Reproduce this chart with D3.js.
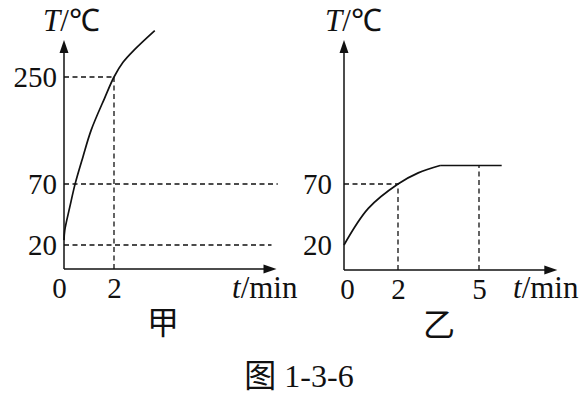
<!doctype html>
<html>
<head>
<meta charset="utf-8">
<style>
  body { margin: 0; background: #fff; }
  text { font-family: "Liberation Serif", "Times New Roman", serif; fill: #111; }
  .cjk { font-family: "Noto Sans CJK SC", sans-serif; }
</style>
</head>
<body>
<div id="chart"></div>
<script src="https://cdnjs.cloudflare.com/ajax/libs/d3/7.8.5/d3.min.js"></script>
<script>
// 甲 panel: temperature curve
const jiaTime = [0, 0.03, 0.23, 0.45, 0.76, 1.09, 1.63, 2, 2.36, 2.83, 3.63];
const jiaTemp = [24, 32, 51, 71, 116, 161, 215, 250, 275, 297, 329];
const jiaTempTicks = [20, 70, 250];
const jiaTimeTicks = [0, 2];

// 乙 panel: rising part then the flat part
const yiTime = [0, 0.9, 2, 2.75, 3.56];
const yiTemp = [20, 50, 70, 79, 85];
const yiFlatTime = [3.56, 5.84];
const yiFlatTemp = 85;
const yiTempTicks = [20, 70];
const yiTimeTicks = [0, 2, 5];

const width = 586, height = 396;
const svg = d3.select("#chart").append("svg").attr("width", width).attr("height", height);

const ink = "#111";

function panel(opt) {
  const g = svg.append("g");
  const x = opt.x, y = opt.y;
  const x0 = x(0), y0 = y(0);

  // dashed guides
  opt.guides.forEach(d => {
    g.append("line")
      .attr("x1", x(d[0])).attr("y1", y(d[1]))
      .attr("x2", x(d[2])).attr("y2", y(d[3]))
      .attr("stroke", ink).attr("stroke-width", 1.3)
      .attr("stroke-dasharray", "5,3.5");
  });

  // axes lines + arrow heads
  g.append("line").attr("x1", x0).attr("y1", y0).attr("x2", x0).attr("y2", opt.topY + 6)
    .attr("stroke", ink).attr("stroke-width", 1.5);
  g.append("line").attr("x1", x0).attr("y1", y0).attr("x2", opt.rightX - 6).attr("y2", y0)
    .attr("stroke", ink).attr("stroke-width", 1.5);
  g.append("path")
    .attr("d", `M${x0},${opt.topY}L${x0 - 4.5},${opt.topY + 13}L${x0 + 4.5},${opt.topY + 13}Z`)
    .attr("fill", ink);
  g.append("path")
    .attr("d", `M${opt.rightX},${y0}L${opt.rightX - 13},${y0 - 4.5}L${opt.rightX - 13},${y0 + 4.5}Z`)
    .attr("fill", ink);

  // tick labels through d3 axes
  const ya = g.append("g").attr("transform", `translate(${x0},0)`)
    .call(d3.axisLeft(y).tickValues(opt.yTicks).tickFormat(d3.format("d")).tickSize(0).tickPadding(opt.yPad));
  const xa = g.append("g").attr("transform", `translate(0,${y0})`)
    .call(d3.axisBottom(x).tickValues(opt.xTicks).tickFormat(d3.format("d")).tickSize(0).tickPadding(8));
  [ya, xa].forEach(a => {
    a.select(".domain").remove();
    a.selectAll("text").attr("font-family", null).attr("font-size", 29).attr("fill", ink);
  });
  xa.selectAll("text").filter(d => d === 0).attr("dx", opt.zeroDx);

  // curve
  g.append("path")
    .datum(opt.time.map((t, i) => [t, opt.temp[i]]))
    .attr("d", d3.line().x(d => x(d[0])).y(d => y(d[1])).curve(d3.curveCatmullRom.alpha(0.5)))
    .attr("fill", "none").attr("stroke", ink).attr("stroke-width", 1.7);
  if (opt.flat) {
    g.append("path")
      .datum(opt.flat.time.map(t => [t, opt.flat.temp]))
      .attr("d", d3.line().x(d => x(d[0])).y(d => y(d[1])))
      .attr("fill", "none").attr("stroke", ink).attr("stroke-width", 1.7);
  }

  // axis names
  const tl = g.append("text").attr("x", opt.tLabel[0]).attr("y", opt.tLabel[1]).attr("font-size", 31);
  tl.append("tspan").attr("font-style", "italic").text("T");
  tl.append("tspan").text("/℃");
  const xl = g.append("text").attr("x", opt.xLabel[0]).attr("y", opt.xLabel[1]).attr("font-size", 31);
  xl.append("tspan").attr("font-style", "italic").text("t");
  xl.append("tspan").text("/min");

  g.append("text").attr("class", "cjk")
    .attr("x", opt.name[0]).attr("y", opt.name[1])
    .attr("text-anchor", "middle").attr("dominant-baseline", "central")
    .attr("font-size", 32).text(opt.name[2]);
}

// 甲
const xJia = d3.scaleLinear().domain([0, 2]).range([64, 114]);
const yJia = d3.scaleLinear().domain([0, 20, 70, 250, 330]).range([269, 245, 184, 77, 30]);
panel({
  x: xJia, y: yJia,
  time: jiaTime, temp: jiaTemp,
  yTicks: jiaTempTicks, xTicks: jiaTimeTicks, yPad: 7, zeroDx: -5,
  guides: [[0, 250, 2, 250], [2, 0, 2, 250], [0, 70, 8.55, 70], [0, 20, 8.3, 20]],
  topY: 40, rightX: xJia(8.5),
  tLabel: [43, 31], xLabel: [232, 298], name: [163, 320, "甲"]
});

// 乙
const xYi = d3.scaleLinear().domain([0, 2]).range([344, 398]);
const yYi = d3.scaleLinear().domain([0, 20, 70, 100]).range([270, 245, 184, 147]);
panel({
  x: xYi, y: yYi,
  time: yiTime, temp: yiTemp,
  flat: { time: yiFlatTime, temp: yiFlatTemp },
  yTicks: yiTempTicks, xTicks: yiTimeTicks, yPad: 12, zeroDx: 3,
  guides: [[0, 70, 2, 70], [2, 0, 2, 70], [5, 0, 5, yiFlatTemp]],
  topY: 40, rightX: xYi(7.9),
  tLabel: [325, 31], xLabel: [513, 298], name: [439, 322, "乙"]
});

// caption
const cap = svg.append("text").attr("x", 299).attr("y", 387).attr("text-anchor", "middle").attr("font-size", 32);
cap.append("tspan").attr("class", "cjk").text("图");
cap.append("tspan").text(" 1-3-6");
</script>
</body>
</html>
